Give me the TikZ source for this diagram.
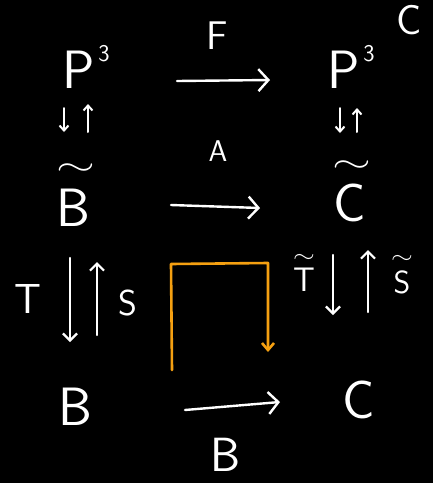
\documentclass[tikz,border=0pt]{standalone}
\usepackage{graphicx}
\usetikzlibrary{arrows.meta,calc}
\definecolor{orng}{HTML}{F5A011}
\begin{document}
\begin{tikzpicture}[x=1pt,y=-1pt,
 obj/.style={text=white,font=\sffamily\fontsize{54}{54}\selectfont,inner sep=0pt},
 lab/.style={text=white,font=\sffamily\fontsize{30}{30}\selectfont,inner sep=0pt},
 supx/.style={text=white,font=\sffamily\fontsize{24}{24}\selectfont,inner sep=0pt},
 tld/.style={text=white,font=\fontsize{10}{10}\selectfont,inner sep=0pt},
 harr/.style={draw=white,line width=2.4pt,line cap=round,-{Straight Barb[length=10pt,width=22pt]}},
 varr/.style={draw=white,line width=2.2pt,line cap=round,-{Straight Barb[length=7pt,width=14pt]}},
 sarr/.style={draw=white,line width=2pt,line cap=round,-{Straight Barb[length=5pt,width=9pt]}},
 oarr/.style={draw=orng,line width=2.6pt,line join=round,line cap=round,-{Straight Barb[length=7pt,width=12pt]}}]
\fill[black] (0,0) rectangle (433,483);
\useasboundingbox (0,0) rectangle (433,483);
% corner label
\node[text=white,font=\sffamily\fontsize{42}{42}\selectfont,inner sep=0pt] (Cc) at (409,20) {C};
% top row
\node[obj] (P1) at (79,70) {P};
\node[supx] (P1e) at (104,54) {3};
\node[obj] (P2) at (344,70) {P};
\node[supx] (P2e) at (369,54) {3};
\node[text=white,font=\sffamily\fontsize{40}{40}\selectfont,inner sep=0pt] (F) at (217,36) {F};
\draw[harr] ($(P1)+(98,11)$) -- ($(P2)+(-74,10)$);
% small arrows
\draw[sarr] ($(P1)+(-15,38)$) -- ($(P1)+(-15,62)$);
\draw[sarr] ($(P1)+(9,62)$) -- ($(P1)+(9,34)$);
\draw[sarr] ($(P2)+(-4,38)$) -- ($(P2)+(-4,63)$);
\draw[sarr] ($(P2)+(13,62)$) -- ($(P2)+(13,38)$);
% middle row
\node[lab] (A) at (218,151) {A};
\node[obj] (B1) at (73,208) {B};
\node[tld] (B1t) at (76,170) {\scalebox{5}[3.2]{$\sim$}};
\node[obj] (C1) at (350,203) {C};
\node[tld] (C1t) at (352,167) {\scalebox{5}[3.2]{$\sim$}};
\draw[harr] ($(B1)+(98,-3)$) -- ($(C1)+(-90,5)$);
% vertical arrows left
\node[text=white,font=\sffamily\fontsize{42}{42}\selectfont,inner sep=0pt] (T) at (28,299) {T};
\node[text=white,font=\sffamily\fontsize{36}{36}\selectfont,inner sep=0pt] (S) at (128,303) {S};
\node[obj] (B2) at (75,407) {B};
\draw[varr] ($(B1)+(-3,50)$) -- ($(B1)+(-3,134)$);
\draw[varr] ($(B2)+(22,-72)$) -- ($(B2)+(22,-145)$);
% vertical arrows right
\node[text=white,font=\sffamily\fontsize{34}{34}\selectfont,inner sep=0pt] (Tt) at (304,280) {T};
\node[tld] (Ttt) at (304,258) {\scalebox{2.8}[2.2]{$\sim$}};
\node[text=white,font=\sffamily\fontsize{32}{32}\selectfont,inner sep=0pt] (St) at (402,282) {S};
\node[tld] (Stt) at (402,259) {\scalebox{2.8}[2.2]{$\sim$}};
\node[obj] (C2) at (359,400) {C};
\draw[varr] ($(C1)+(-17,52)$) -- ($(C1)+(-17,112)$);
\draw[varr] ($(C2)+(9,-88)$) -- ($(C2)+(9,-150)$);
% orange
\coordinate (o1) at (172,370);
\coordinate (o2) at (171,264);
\coordinate (o3) at (268,263);
\coordinate (o4) at (268,352);
\draw[oarr] (o1) -- (o2) -- (o3) -- (o4);
% bottom row
\draw[harr] ($(B2)+(110,3)$) -- ($(C2)+(-79,2)$);
\node[text=white,font=\sffamily\fontsize{48}{48}\selectfont,inner sep=0pt] (Bl) at (226,455) {B};
\end{tikzpicture}
\end{document}
